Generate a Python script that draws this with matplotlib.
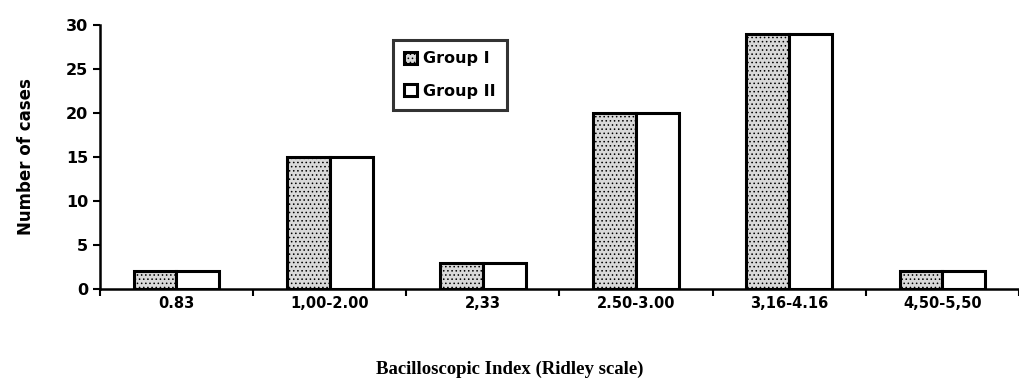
import numpy as np
import matplotlib.pyplot as plt

# Bacilloscopic index categories and case counts
categories = ["0.83", "1,00-2.00", "2,33", "2.50-3.00", "3,16-4.16", "4,50-5,50"]
group1 = [2, 15, 3, 20, 29, 2]
group2 = [2, 15, 3, 20, 29, 2]

plt.rcParams['hatch.color'] = '#555555'
plt.rcParams['hatch.linewidth'] = 0.6

fig = plt.figure(figsize=(10.19, 3.88), dpi=100)
ax = fig.add_axes([0.098, 0.255, 0.902, 0.681])

x = np.arange(len(categories))
w = 0.28
ax.bar(x - w / 2, group1, w, facecolor='#d9d9d9', edgecolor='black',
       linewidth=2.2, hatch='....', label='Group I')
ax.bar(x + w / 2, group2, w, facecolor='white', edgecolor='black',
       linewidth=2.2, label='Group II')

ax.set_xlim(-0.5, len(categories) - 0.5)
ax.set_ylim(0, 30)
ax.set_yticks(range(0, 31, 5))

# labels at centres, tick marks at category boundaries
ax.set_xticks(x)
ax.set_xticklabels(categories, fontweight='heavy', fontsize=10.5)
ax.tick_params(axis='x', length=0, pad=5)
ax.set_xticks(np.arange(-0.5, len(categories), 1), minor=True)
ax.tick_params(axis='x', which='minor', length=5, width=1.5, direction='out')
ax.tick_params(axis='y', length=5, width=1.5, labelsize=11.5)
for lab in ax.get_yticklabels():
    lab.set_fontweight('heavy')

for s in ['top', 'right']:
    ax.spines[s].set_visible(False)
ax.spines['left'].set_linewidth(1.8)
ax.spines['bottom'].set_linewidth(1.8)

ax.set_ylabel('Number of cases', fontweight='heavy', fontsize=12, labelpad=22)
fig.text(0.5, 0.035, 'Bacilloscopic Index (Ridley scale)', ha='center',
         family='Liberation Serif', fontweight='bold', fontsize=13.5)

leg = ax.legend(loc='upper left', bbox_to_anchor=(0.319, 0.942), fancybox=False,
                edgecolor='black', handlelength=0.8, handleheight=0.8,
                handletextpad=0.4, borderpad=0.7, labelspacing=1.1,
                borderaxespad=0, prop={'weight': 'heavy', 'size': 11.5})
leg.get_frame().set_linewidth(2.2)

fig.savefig('out.png', dpi=100)
